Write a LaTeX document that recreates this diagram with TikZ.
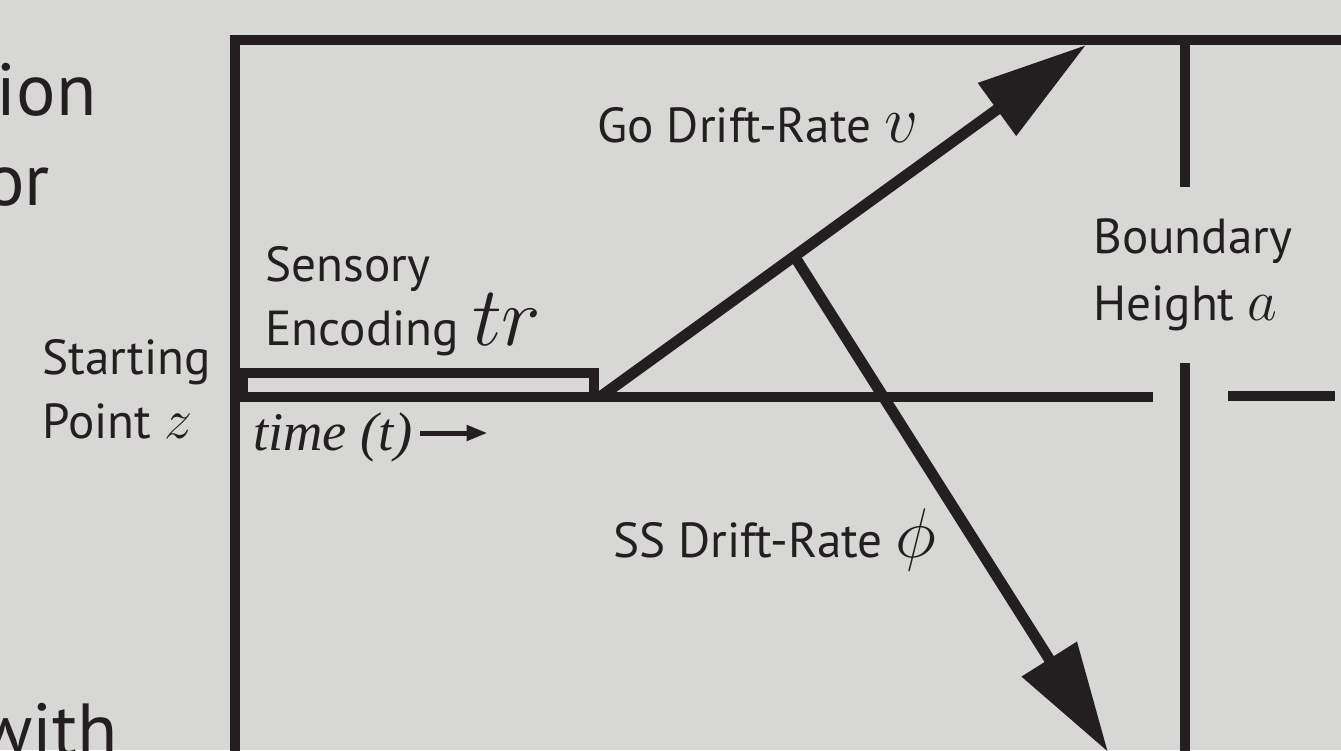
\documentclass[tikz,border=0pt]{standalone}
\usepackage{fix-cm}
\usepackage{fontspec}
\setmainfont{PT Sans}
\newfontfamily\timesit{Liberation Serif}
\usetikzlibrary{arrows.meta,calc}
\definecolor{bgGray}{RGB}{215,215,213}
\definecolor{inkDark}{RGB}{35,31,32}
\newcommand{\mth}[2][38]{{\fontsize{#1}{#1}\selectfont$#2$}}

\begin{document}
\begin{tikzpicture}[x=0.02cm, y=-0.02cm, line join=miter,
    every node/.style={inner sep=0pt, text=inkDark},
    lbl/.style={font=\fontsize{28}{36}\selectfont, align=left},
    frag/.style={font=\fontsize{42}{50}\selectfont},
    frame/.style={draw=inkDark, line width=0.2cm},
    drift/.style={draw=inkDark, line width=0.22cm, -{Triangle[length=2.2cm, width=1.25cm]}}]
        \def\W{1341} \def\H{750} % picture size in px
        \def\yz{397} \def\xb{1185}

        \fill[bgGray] (0,0) rectangle (\W,\H);
        \useasboundingbox (0,0) rectangle (\W,\H);
        \clip (0,0) rectangle (\W,\H);

        % cut-off text at the left
        \node[frag, anchor=base east] (fragA) at (97,115) {ion};
        \node[frag, anchor=base east] (fragB) at (50,205) {or};
        \node[frag, anchor=base east] (fragC) at (118,755) {with};

        % frame and boundaries
        \coordinate (cTop) at (235,40);
        \coordinate (cStart) at (235,\yz);
        \draw[frame] (235,\H+10) -- (cTop) -- (\W+10,40);
        \draw[frame] (\xb,40) -- (\xb,187);
        \draw[frame] (\xb,363) -- (\xb,\H+10);
        \draw[frame] (cStart) -- (1153,\yz);
        \draw[frame] (1228,396) -- (1335,396);
        \draw[frame] (243,373) rectangle (594,\yz);

        % drift-rate arrows
        \coordinate (goStart) at (600,\yz);
        \coordinate (goEnd) at (1086,45);
        \coordinate (ssStart) at ($(goStart)!0.4!(goEnd)$);
        \coordinate (ssEnd) at (1108,752);
        \draw[drift] (goStart) -- (goEnd);
        \draw[drift] (ssStart) -- (ssEnd);

        % labels (base = last line)
        \node[lbl, anchor=base west] (goLbl) at (597,142) {Go Drift-Rate \mth{v}};
        \node[lbl, anchor=base west] (ssLbl) at (613,557) {SS Drift-Rate \mth[40]{\phi}};
        \node[lbl, anchor=base west] (encLbl) at (265,345) {Sensory\\Encoding \mth[48]{tr}};
        \node[lbl, anchor=base west] (startLbl) at (42,438) {Starting\\Point \mth[32]{z}};
        \node[lbl, anchor=base west, font=\fontsize{28}{38}\selectfont] (bndLbl) at (1093,320) {Boundary\\Height \mth[33]{a}};
        \node[anchor=base west, font=\fontsize{31}{32}\timesit\itshape] (timeLbl) at (253,450) {time (t)};
        \coordinate (timeA) at ($(timeLbl.base east)+(7,-17)$);
        \coordinate (timeB) at ($(timeA)+(68,0)$);
        \draw[draw=inkDark, line width=0.1cm, -{Triangle[length=0.42cm, width=0.3cm]}] (timeA) -- (timeB);
    \end{tikzpicture}
\end{document}
